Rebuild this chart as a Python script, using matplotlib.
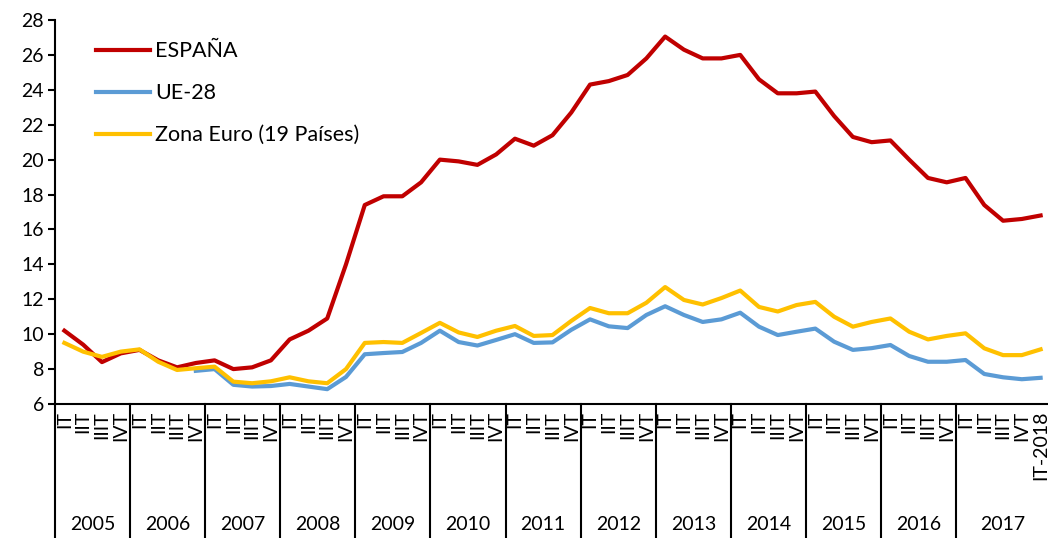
import numpy as np
import matplotlib
matplotlib.use("Agg")
import matplotlib.pyplot as plt
import matplotlib.transforms as mtransforms

plt.rcParams['font.family'] = ['Lato', 'DejaVu Sans']

# ========================
# DATA
# ========================
years = ["2005", "2006", "2007", "2008", "2009", "2010", "2011",
         "2012", "2013", "2014", "2015", "2016", "2017"]
quarters = ["IT", "IIT", "IIIT", "IVT"]
last_label = "IT-2018"

espana = [10.2, 9.4, 8.4, 8.9, 9.1, 8.5, 8.1, 8.35, 8.5, 8.0, 8.1, 8.5,
          9.7, 10.2, 10.9, 14.0, 17.4, 17.9, 17.9, 18.7, 20.0, 19.9, 19.7, 20.3,
          21.2, 20.8, 21.4, 22.7, 24.3, 24.5, 24.85, 25.8, 27.05, 26.3, 25.8, 25.8,
          26.0, 24.6, 23.8, 23.8, 23.9, 22.5, 21.3, 21.0, 21.1, 20.0, 18.95, 18.7,
          18.95, 17.4, 16.5, 16.6, 16.8]

ue28 = [np.nan, np.nan, np.nan, np.nan, np.nan, np.nan, np.nan, 7.9, 8.0, 7.1, 7.0, 7.03,
        7.15, 7.0, 6.85, 7.55, 8.85, 8.92, 8.98, 9.5, 10.2, 9.55, 9.35, 9.67,
        10.0, 9.5, 9.53, 10.25, 10.85, 10.45, 10.35, 11.1, 11.6, 11.1, 10.7, 10.85,
        11.23, 10.43, 9.95, 10.14, 10.32, 9.57, 9.1, 9.2, 9.38, 8.75, 8.42, 8.42,
        8.52, 7.72, 7.53, 7.42, 7.5]

zona_euro = [9.5, 9.0, 8.7, 9.0, 9.13, 8.42, 7.95, 8.05, 8.14, 7.28, 7.19, 7.3,
             7.53, 7.3, 7.19, 8.0, 9.5, 9.55, 9.5, 10.07, 10.65, 10.1, 9.84, 10.2,
             10.47, 9.9, 9.95, 10.76, 11.5, 11.2, 11.2, 11.8, 12.7, 11.96, 11.7, 12.07,
             12.5, 11.56, 11.3, 11.67, 11.85, 11.0, 10.43, 10.7, 10.9, 10.14, 9.7, 9.9,
             10.05, 9.19, 8.8, 8.8, 9.13]

labels = quarters * len(years) + [last_label]
x = np.arange(len(labels))

# ========================
# FIGURE
# ========================
fig = plt.figure(figsize=(10.48, 5.38), dpi=100)
ax = fig.add_axes([55 / 1048, 1 - 404 / 538, 995 / 1048, 384 / 538])

ax.plot(x, espana, color='#C00000', lw=3, solid_joinstyle='round', label='ESPAÑA')
ax.plot(x, ue28, color='#5B9BD5', lw=3, solid_joinstyle='round', label='UE-28')
ax.plot(x, zona_euro, color='#FFC000', lw=3, solid_joinstyle='round', label='Zona Euro (19 Países)')

ax.set_xlim(-0.5, len(labels) - 0.5)
ax.set_ylim(6, 28)
ax.set_yticks(range(6, 29, 2))
ax.tick_params(axis='y', direction='out', length=5, width=1.5, labelsize=14, pad=3)

ax.set_xticks(x)
ax.set_xticklabels(labels, rotation=90, fontsize=14, va='top', ha='center')
ax.tick_params(axis='x', length=0, pad=5)

for side in ['top', 'right']:
    ax.spines[side].set_visible(False)
ax.spines['left'].set_linewidth(1.5)
ax.spines['bottom'].set_linewidth(1.5)

# separadores de años y etiquetas de año
trans = mtransforms.blended_transform_factory(ax.transData, ax.transAxes)
bottom = -(538 - 404) / 384
bounds = [-0.5 + 4 * k for k in range(len(years))] + [len(labels) - 0.5]
for b in bounds:
    ax.plot([b, b], [0, bottom], color='black', lw=1.5, transform=trans, clip_on=False)
for k, yr in enumerate(years):
    mid = (bounds[k] + bounds[k + 1]) / 2
    ax.text(mid, -0.315, yr, transform=trans, ha='center', va='center', fontsize=14)

ax.legend(loc='upper left', bbox_to_anchor=(0.022, 0.995), frameon=False, fontsize=15.5,
          handlelength=2.5, handletextpad=0.25, labelspacing=1.02)

fig.savefig("out.png", dpi=100)
